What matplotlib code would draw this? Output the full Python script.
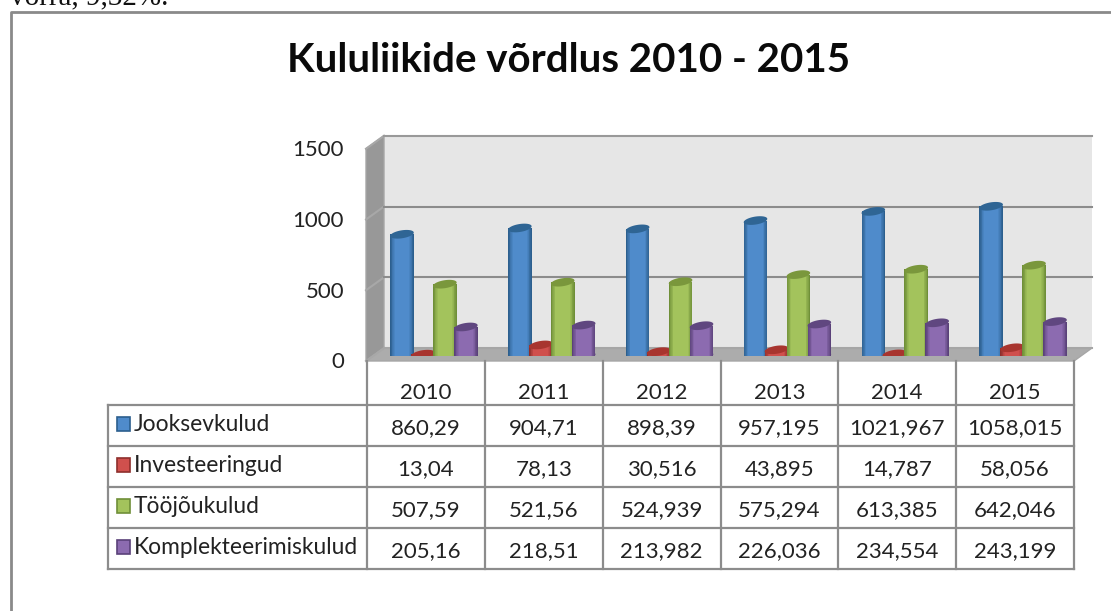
import numpy as np
import matplotlib
matplotlib.use("Agg")
import matplotlib.pyplot as plt
from matplotlib.patches import Polygon, Rectangle

years = ["2010", "2011", "2012", "2013", "2014", "2015"]
series_names = ["Jooksevkulud", "Investeeringud", "Tööjõukulud", "Komplekteerimiskulud"]
jooksevkulud = [860.29, 904.71, 898.39, 957.195, 1021.967, 1058.015]
investeeringud = [13.04, 78.13, 30.516, 43.895, 14.787, 58.056]
toojoukulud = [507.59, 521.56, 524.939, 575.294, 613.385, 642.046]
komplekteerimiskulud = [205.16, 218.51, 213.982, 226.036, 234.554, 243.199]
y_ticks = [0, 500, 1000, 1500]

series = [jooksevkulud, investeeringud, toojoukulud, komplekteerimiskulud]
offsets = [-0.203, -0.025, 0.161, 0.339]
palette = [
    ("#2C5F8E", "#4F8BCB", "#2F6594"),
    ("#8E2F2C", "#D0504D", "#A8352F"),
    ("#6F8F38", "#A3C35C", "#7A973C"),
    ("#5A4179", "#8C6BB0", "#604780"),
]

W, H = 1111, 611
TXT = "#222222"
GRID = "#8C8C8C"
FONT = "Lato"

fig = plt.figure(figsize=(W / 100, H / 100), dpi=100)
bg = fig.add_axes([0, 0, 1, 1])
bg.set_xlim(0, W); bg.set_ylim(H, 0); bg.axis("off")

# Page text and outer frame
bg.text(10, 4.5, "võrra, 9,32%.", family="Liberation Serif", fontsize=21, color="#111111",
        va="baseline", ha="left", clip_on=False)
bg.plot([11, 11, W], [H, 12, 12], color="#8A8A8A", lw=2)
bg.text(569, 72, "Kululiikide võrdlus 2010 - 2015", family=FONT, weight="bold",
        fontsize=29, ha="center", va="baseline", color="#0A0A0A")

# Data axes: one x unit is one table column, y is the value scale
X0, X1, Y0 = 367, 1074, 356
SC = 0.1415
ax = fig.add_axes([X0 / W, (H - Y0) / H, (X1 - X0) / W, 1500 * SC / H], zorder=3)
ax.set_xlim(0, 6); ax.set_ylim(0, 1500)
ax.patch.set_alpha(0); ax.axis("off")

# 3D wall and floor
bx, by = 18, 13     # depth offset, px
ytop = lambda v: Y0 + 5 - v * SC
bg.add_patch(Polygon([(366 + bx, ytop(1500) - by), (1092, ytop(1500) - by),
                      (1092, ytop(0) - by), (366 + bx, ytop(0) - by)], fc="#E6E6E6", ec="none"))
bg.add_patch(Polygon([(366, ytop(1500)), (366 + bx, ytop(1500) - by),
                      (366 + bx, ytop(0) - by), (366, ytop(0))], fc="#989898", ec="#A6A6A6", lw=1))
bg.add_patch(Polygon([(366, ytop(0)), (366 + bx, ytop(0) - by), (1092, ytop(0) - by),
                      (1074, ytop(0))], fc="#ACACAC", ec="#A6A6A6", lw=1))
for v in y_ticks:
    bg.plot([366, 366 + bx], [ytop(v), ytop(v) - by], color="#A8A8A8", lw=1.5, zorder=2)
    bg.plot([366 + bx, 1092], [ytop(v) - by, ytop(v) - by],
            color="#999999" if v == 1500 else (GRID if v else "#A6A6A6"), lw=1.5, zorder=2)
    bg.text(344, ytop(v) + 7.5, str(v), family=FONT, fontsize=16, ha="right", va="baseline", color=TXT)

# Cylinders
bw = 0.2
ry = 4.0 / SC
tilt = 1.7 / SC
t = np.linspace(0, 2 * np.pi, 60)


def shade(c1, c2, f):
    a = np.array(matplotlib.colors.to_rgb(c1))
    b = np.array(matplotlib.colors.to_rgb(c2))
    return a + (b - a) * f


for s, vals in enumerate(series):
    edge, body, top = palette[s]
    for i, v in enumerate(vals):
        cx = i + 0.5 + offsets[s]
        ex = cx + bw / 2 * np.cos(t)
        rim = ry * np.sin(t) + tilt * np.cos(t)
        ax.fill(ex, rim, color=edge, lw=0, zorder=4 + s)
        for f, frac in zip(np.linspace(0, 1, 7), np.linspace(1, 0.62, 7)):
            ax.bar(cx, v, width=bw * frac, bottom=0, color=shade(edge, body, f), lw=0, zorder=4 + s)
        ax.fill(ex, v + rim, color=top, lw=0, zorder=4.5 + s)

# Table
lines = dict(color=GRID, lw=1.6, solid_capstyle="projecting")
rows = [405, 446, 487, 528, 569]
cols = np.linspace(X0, X1, 7)
bg.plot([108, 108], [rows[0], rows[-1]], **lines)
for r in rows:
    bg.plot([108, X1], [r, r], **lines)
for c in cols:
    bg.plot([c, c], [ytop(0), rows[-1]], **lines)
for i, yr in enumerate(years):
    bg.text((cols[i] + cols[i + 1]) / 2, 399, yr, family=FONT, fontsize=16, ha="center", va="baseline", color=TXT)
for s, name in enumerate(series_names):
    edge, body, _ = palette[s]
    bg.add_patch(Rectangle((116.5, rows[s] + 12), 13.5, 14, fc=body, ec=edge, lw=1.2))
    bg.text(134, rows[s] + 26, name, family=FONT, fontsize=16.4, ha="left", va="baseline", color=TXT)
    for i, v in enumerate(series[s]):
        label = str(v).replace(".", ",")
        bg.text((cols[i] + cols[i + 1]) / 2, rows[s] + 29, label, family=FONT, fontsize=16,
                ha="center", va="baseline", color=TXT)

fig.savefig("out.png", dpi=100)
